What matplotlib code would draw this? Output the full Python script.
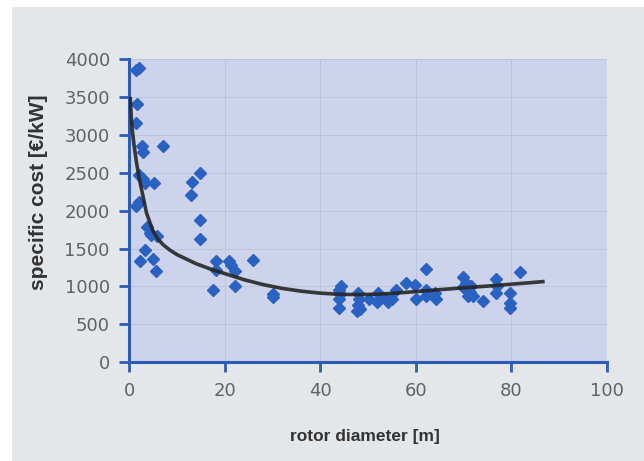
import numpy as np
import matplotlib.pyplot as plt
from matplotlib.patches import Rectangle

# measured turbines: rotor diameter [m] and specific cost [EUR/kW]
diam_small = [1.5, 2.1, 1.7, 1.4, 2.6, 2.9, 7.1, 2.1, 2.9, 3.3, 5.1, 1.5, 2.1,
              3.8, 4.3, 5.7, 4.6, 3.3, 2.2, 4.9, 5.6, 13.2, 14.9, 12.9, 14.9,
              14.9, 18.1, 18.1, 17.5, 20.9, 21.4, 22.1, 22.1, 25.9, 30.1, 30.1]
cost_small = [3850, 3880, 3400, 3160, 2850, 2780, 2850, 2470, 2420, 2360, 2360,
              2060, 2120, 1790, 1710, 1660, 1680, 1480, 1340, 1360, 1200, 2380,
              2500, 2210, 1880, 1630, 1330, 1220, 960, 1330, 1280, 1200, 1000,
              1350, 900, 860]

diam_large = [44.4, 43.9, 44.2, 43.9, 43.9, 47.9, 48.1, 47.9, 48.4, 47.7, 50.2,
              52.1, 52.4, 51.9, 53.8, 54.2, 55.1, 55.9, 57.9, 59.8, 60.0, 62.1,
              62.1, 62.2, 64.0, 64.2, 69.9, 69.8, 70.6, 71.5, 71.3, 71.9, 71.0,
              74.0, 76.9, 77.1, 76.9, 79.7, 79.7, 79.7, 81.8]
cost_large = [1008, 960, 900, 830, 715, 910, 830, 755, 700, 670, 830,
              920, 820, 790, 830, 790, 830, 960, 1050, 1020, 830, 1230,
              960, 870, 910, 830, 1130, 990, 1040, 1010, 930, 870, 870,
              810, 1100, 1000, 920, 920, 780, 720, 1185]

# trend line
trend_x = [0.2, 0.5, 1.0, 1.5, 2.0, 2.6, 3.6, 5.0, 6.0, 7.1, 8.5, 10, 12, 14,
           17, 20, 24, 28, 32, 36, 40, 44, 48, 52, 56, 60, 65, 70, 75, 80, 84, 87]
trend_y = [3500, 3130, 2860, 2640, 2450, 2270, 1970, 1725, 1625, 1550, 1480,
           1420, 1360, 1300, 1230, 1170, 1090, 1025, 975, 938, 912, 897, 893,
           898, 913, 932, 958, 982, 1005, 1030, 1050, 1066]

x_ticks = [0, 20, 40, 60, 80, 100]
y_ticks = [0, 500, 1000, 1500, 2000, 2500, 3000, 3500, 4000]

blue = "#2d5cb5"
fig = plt.figure(figsize=(6.44, 4.61), dpi=100)
fig.patch.set_facecolor("white")
fig.patches.append(Rectangle((12 / 644, 0), 1, 1 - 7 / 461, transform=fig.transFigure,
                             facecolor="#e4e7ea", edgecolor="none", zorder=-10))

ax = fig.add_axes([129.3 / 644, 98.7 / 461, 477.4 / 644, 303.3 / 461])
ax.set_facecolor("#ccd3ea")
ax.set_xlim(0, 100)
ax.set_ylim(0, 4000)
ax.set_xticks(x_ticks)
ax.set_yticks(y_ticks)
ax.grid(True, color="#bcc4dd", linewidth=0.7)
ax.set_axisbelow(True)

for side in ["top", "right"]:
    ax.spines[side].set_visible(False)
for side in ["left", "bottom"]:
    ax.spines[side].set_color(blue)
    ax.spines[side].set_linewidth(2.2)
ax.tick_params(axis="both", direction="out", length=7, width=2, color=blue,
               labelsize=13, labelcolor="#626262", pad=7)
for lab in ax.get_xticklabels() + ax.get_yticklabels():
    lab.set_fontfamily("DejaVu Sans")

ax.plot(diam_small + diam_large, cost_small + cost_large, linestyle="none",
        marker="D", markersize=6.5, color="#2a62c2", clip_on=False, zorder=3)
ax.plot(trend_x, trend_y, color="#262626", linewidth=2.6, alpha=0.9,
        solid_capstyle="butt", zorder=4)

lab_font = ["Liberation Sans Narrow", "Liberation Sans"]
ax.set_xlabel("rotor diameter [m]", fontsize=12.5, fontweight="bold",
              color="#333333", family=lab_font)
ax.set_ylabel("specific cost [€/kW]", fontsize=15, fontweight="bold",
              color="#333333", family=lab_font)
ax.xaxis.label.set_va("center")
ax.yaxis.label.set_va("center")
ax.xaxis.set_label_coords(0.494, -0.243)
ax.yaxis.set_label_coords(-0.191, 0.561)

fig.savefig("out.png", dpi=100, facecolor=fig.get_facecolor())
